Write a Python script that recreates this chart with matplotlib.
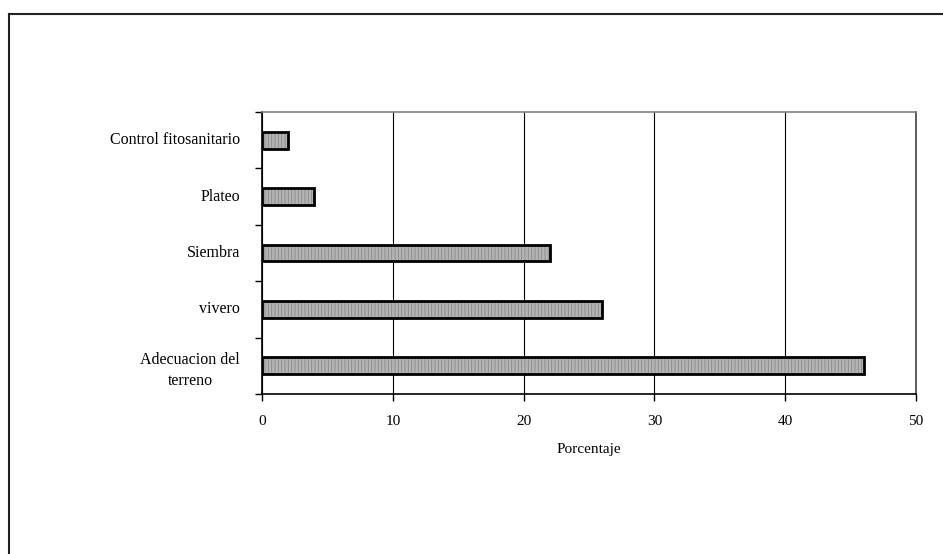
import matplotlib
matplotlib.use("Agg")
import matplotlib.pyplot as plt
from matplotlib.lines import Line2D
from matplotlib.transforms import offset_copy

categories = ["Adecuacion del\nterreno", "vivero", "Siembra", "Plateo", "Control fitosanitario"]
values = [46, 26, 22, 4, 2]
x_ticks = [0, 10, 20, 30, 40, 50]

plt.rcParams["font.family"] = ["Liberation Serif", "DejaVu Serif"]
plt.rcParams["hatch.linewidth"] = 0.6

fig = plt.figure(figsize=(9.43, 5.54), dpi=100)
fig.patch.set_facecolor("white")
ax = fig.add_axes([262 / 943, 1 - 394 / 554, (916 - 262) / 943, (394 - 112) / 554])

pos = list(range(len(categories)))
# hatched fill, then a heavy black outline on top
ax.barh(pos, values, height=0.3, color="#b4b4b4", edgecolor="#8a8a8a",
        hatch="|||||", linewidth=0, zorder=3)
ax.barh(pos, values, height=0.3, fill=False, edgecolor="black",
        linewidth=2.0, zorder=4)

ax.set_xlim(0, 50)
ax.set_ylim(-0.5, len(categories) - 0.5)
ax.set_xticks(x_ticks)
ax.set_xticklabels([str(t) for t in x_ticks], fontsize=11)
ax.set_yticks(pos)
ax.set_yticklabels([])
ax.set_yticks([p - 0.5 for p in pos] + [len(pos) - 0.5], minor=True)
ax.tick_params(axis="y", which="major", length=0)
ax.tick_params(axis="y", which="minor", length=5, width=1, color="black", direction="out")
ax.tick_params(axis="x", which="major", length=5, width=1, direction="out", pad=10)
ax.set_xlabel("Porcentaje", fontsize=11, labelpad=11)

# category labels: first line sits level with its bar
for p, name in zip(pos, categories):
    if "\n" not in name:
        t1 = offset_copy(ax.get_yaxis_transform(), fig=fig, x=-22, y=0, units="dots")
        ax.text(0, p, name, transform=t1, ha="right", va="center", fontsize=11.5)
    else:
        t2 = offset_copy(ax.get_yaxis_transform(), fig=fig, x=-22, y=14, units="dots")
        ax.text(0, p, name, transform=t2, ha="right", va="top", fontsize=11.5,
                multialignment="center", linespacing=1.45)

ax.grid(axis="x", color="black", linewidth=0.8, zorder=1)
ax.set_axisbelow(True)
ax.spines["left"].set_color("black")
ax.spines["left"].set_linewidth(1.2)
ax.spines["bottom"].set_color("black")
ax.spines["bottom"].set_linewidth(1.2)
ax.spines["top"].set_color("#808080")
ax.spines["top"].set_linewidth(1.2)
ax.spines["right"].set_color("#404040")
ax.spines["right"].set_linewidth(1.2)

# outer frame: left and top borders
fx = 9 / 943
fy = 1 - 14 / 554
fig.add_artist(Line2D([fx, fx], [0, fy], transform=fig.transFigure, color="#222222", linewidth=1.5))
fig.add_artist(Line2D([fx, 1], [fy, fy], transform=fig.transFigure, color="#222222", linewidth=1.5))

fig.savefig("out.png", dpi=100, facecolor="white")
